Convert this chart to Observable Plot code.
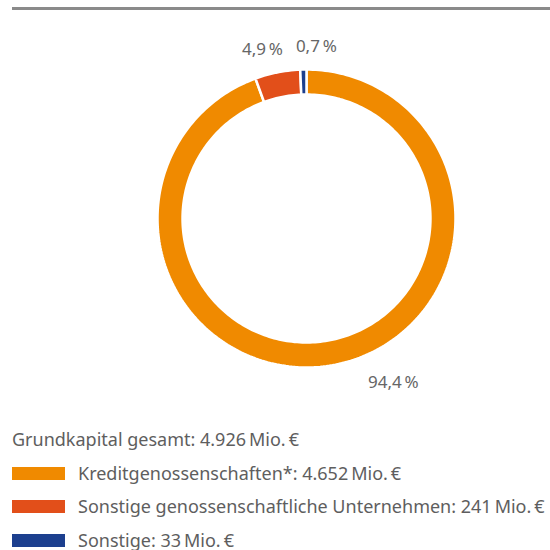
<!DOCTYPE html>
<html>
<head>
<meta charset="utf-8">
<script src="https://cdn.jsdelivr.net/npm/d3@7"></script>
<script src="https://cdn.jsdelivr.net/npm/@observablehq/plot@0.6"></script>
<style>
  html, body { margin: 0; padding: 0; background: #fff; }
  #wrap { position: relative; width: 550px; height: 550px; overflow: hidden; font-family: "Noto Sans", sans-serif; }
  #rule { position: absolute; top: 7px; left: 12px; right: 0; height: 3px; background: #8a8a8a; }
  #chart { position: absolute; top: 0; left: 0; }
  #legend { position: absolute; top: 423px; left: 12px; color: #5e5e5e; font-size: 18px; }
  .row { height: 33.5px; line-height: 33.5px; display: flex; align-items: center; white-space: nowrap; }
  .sw { width: 53px; height: 13px; margin-right: 13px; flex: none; }
</style>
</head>
<body>
<div id="wrap">
  <div id="rule"></div>
  <div id="chart"></div>
  <div id="legend"></div>
</div>
<script>
const categories = ["Kreditgenossenschaften*", "Sonstige genossenschaftliche Unternehmen", "Sonstige"];
const values = [4652, 241, 33];
const shareLabels = ["94,4\u2009%", "4,9\u2009%", "0,7\u2009%"];
const valueLabels = ["4.652\u2009Mio.\u2009€", "241\u2009Mio.\u2009€", "33\u2009Mio.\u2009€"];
const colors = ["#F08A00", "#E24F1A", "#1C3F8E"];
const totalLabel = "Grundkapital gesamt: 4.926\u2009Mio.\u2009€";

const pie = d3.pie().sort(null).value(d => d.value).startAngle(0).endAngle(2 * Math.PI);
const slices = pie(categories.map((c, i) => ({category: c, value: values[i], color: colors[i], label: shareLabels[i]})));

const rOuter = 1.0, rInner = 0.832;
function ring(s) {
  const n = Math.max(8, Math.ceil((s.endAngle - s.startAngle) / (2 * Math.PI) * 300));
  const pts = [];
  for (let i = 0; i <= n; i++) {
    const a = s.startAngle + (s.endAngle - s.startAngle) * i / n;
    pts.push({x: rOuter * Math.sin(a), y: rOuter * Math.cos(a)});
  }
  for (let i = n; i >= 0; i--) {
    const a = s.startAngle + (s.endAngle - s.startAngle) * i / n;
    pts.push({x: rInner * Math.sin(a), y: rInner * Math.cos(a)});
  }
  pts.push(pts[0]);
  return pts;
}

const labelPts = slices.map(s => {
  const a = (s.startAngle + s.endAngle) / 2;
  return {x: rOuter * Math.sin(a), y: rOuter * Math.cos(a), label: s.data.label};
});
const offsets = [[61, 17], [-15, -23], [13, -23]];

const plot = Plot.plot({
  width: 550,
  height: 420,
  margin: 0,
  style: {fontFamily: "'Noto Sans', sans-serif", background: "transparent"},
  x: {domain: [-1, 1], range: [157, 455], axis: null},
  y: {domain: [-1, 1], range: [367, 69], axis: null},
  marks: [
    ...slices.map(s => Plot.line(ring(s), {x: "x", y: "y", fill: s.data.color, stroke: "white", strokeWidth: 2.5, strokeLinejoin: "miter"})),
    ...labelPts.map((p, i) => Plot.text([p], {x: "x", y: "y", text: "label", dx: offsets[i][0], dy: offsets[i][1], fontSize: 17, fill: "#666666"}))
  ]
});
document.getElementById("chart").appendChild(plot);

const legend = document.getElementById("legend");
const head = document.createElement("div");
head.className = "row";
head.textContent = totalLabel;
legend.appendChild(head);
categories.forEach((c, i) => {
  const row = document.createElement("div");
  row.className = "row";
  const sw = document.createElement("span");
  sw.className = "sw";
  sw.style.background = colors[i];
  const t = document.createElement("span");
  t.textContent = c + ": " + valueLabels[i];
  row.appendChild(sw);
  row.appendChild(t);
  legend.appendChild(row);
});
</script>
</body>
</html>
